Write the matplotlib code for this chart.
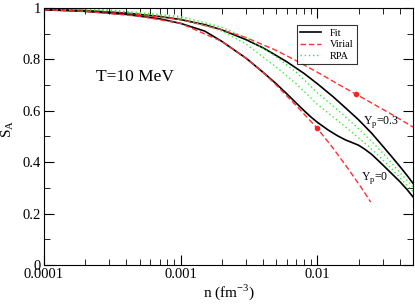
import numpy as np
import matplotlib as mpl
mpl.use('Agg')
import matplotlib.pyplot as plt
from matplotlib.ticker import LogLocator, MultipleLocator, FixedLocator, FixedFormatter, FuncFormatter

# density (fm^-3) and S_A values
n_fit03 = [1e-4, 2e-4, 4e-4, 7e-4, 1e-3, 1.5e-3, 2e-3, 3e-3, 4e-3, 5e-3, 6e-3, 8e-3,
           1e-2, 1.3e-2, 1.6e-2, 2e-2, 2.5e-2, 3e-2, 3.5e-2, 4e-2, 4.5e-2, 5e-2]
s_fit03 = [0.995, 0.99, 0.98, 0.967, 0.955, 0.935, 0.915, 0.877, 0.845, 0.815, 0.79, 0.745,
           0.705, 0.655, 0.612, 0.565, 0.512, 0.463, 0.421, 0.384, 0.35, 0.318]

n_fit0 = [1e-4, 2e-4, 4e-4, 7e-4, 1e-3, 1.5e-3, 2e-3, 3e-3, 4e-3, 5e-3, 6e-3, 7e-3, 8e-3, 9e-3,
          1e-2, 1.2e-2, 1.4e-2, 1.6e-2, 1.8e-2, 2e-2, 2.2e-2, 2.5e-2, 3e-2, 3.5e-2, 4e-2, 4.5e-2, 5e-2]
s_fit0 = [0.993, 0.987, 0.975, 0.958, 0.94, 0.91, 0.87, 0.805, 0.75, 0.705, 0.665, 0.63, 0.60, 0.575,
          0.555, 0.525, 0.503, 0.487, 0.476, 0.466, 0.452, 0.43, 0.39, 0.355, 0.325, 0.295, 0.265]

n_vir03 = [1e-4, 2e-4, 5e-4, 1e-3, 2e-3, 3e-3, 5e-3, 7e-3, 1e-2, 1.4e-2, 1.91e-2, 2.5e-2, 3.5e-2, 5e-2]
s_vir03 = [0.995, 0.99, 0.975, 0.955, 0.915, 0.885, 0.835, 0.795, 0.75, 0.705, 0.665, 0.63, 0.586, 0.537]

n_vir0 = [1e-4, 2e-4, 5e-4, 1e-3, 2e-3, 3e-3, 4e-3, 5e-3, 7e-3, 9.9e-3, 1.3e-2, 1.7e-2, 2.1e-2, 2.45e-2]
s_vir0 = [0.993, 0.987, 0.968, 0.94, 0.87, 0.805, 0.75, 0.70, 0.62, 0.534, 0.455, 0.37, 0.30, 0.245]

n_rpa03 = [1e-4, 3e-4, 1e-3, 2e-3, 3e-3, 5e-3, 7e-3, 1e-2, 1.5e-2, 2e-2, 2.5e-2, 3.2e-2, 4e-2, 5e-2]
s_rpa03 = [1.0, 0.993, 0.967, 0.925, 0.885, 0.81, 0.75, 0.67, 0.59, 0.53, 0.48, 0.42, 0.36, 0.305]

n_rpa0 = [1e-4, 3e-4, 1e-3, 2e-3, 3e-3, 5e-3, 7e-3, 1e-2, 1.5e-2, 2e-2, 2.5e-2, 3.2e-2, 4e-2, 5e-2]
s_rpa0 = [0.998, 0.99, 0.962, 0.91, 0.86, 0.77, 0.705, 0.625, 0.55, 0.495, 0.45, 0.395, 0.34, 0.285]

n_dots = [1.91e-2, 9.9e-3]
s_dots = [0.665, 0.534]

plt.rcParams['font.family'] = 'Liberation Serif'
plt.rcParams['mathtext.fontset'] = 'custom'
plt.rcParams['mathtext.rm'] = 'Liberation Serif'
plt.rcParams['xtick.direction'] = 'in'
plt.rcParams['ytick.direction'] = 'in'

fig = plt.figure(figsize=(4.15, 3.04), dpi=100)
ax = fig.add_axes([44/415, 39/304, 369/415, 257/304])

ax.plot(n_fit03, s_fit03, color='black', lw=1.2, label='Fit')
ax.plot(n_vir03, s_vir03, color='#ff3030', lw=1.0, ls=(0, (4, 2)), label='Virial')
ax.plot(n_rpa03, s_rpa03, color='#33ee33', lw=1.0, ls=(0, (1, 2)), label='RPA')
ax.plot(n_fit0, s_fit0, color='black', lw=1.2)
ax.plot(n_vir0, s_vir0, color='#ff3030', lw=1.0, ls=(0, (4, 2)))
ax.plot(n_rpa0, s_rpa0, color='#33ee33', lw=1.0, ls=(0, (1, 2)))
ax.plot(n_dots, s_dots, 'o', color='#ff2020', ms=3, ls='none')

ax.set_xscale('log')
ax.set_xlim(1e-4, 0.05)
ax.set_ylim(0, 1)
ax.xaxis.set_major_locator(FixedLocator([1e-4, 1e-3, 1e-2]))
ax.xaxis.set_major_formatter(FixedFormatter(['0.0001', '0.001', '0.01']))
ax.xaxis.set_minor_locator(LogLocator(base=10, subs=np.arange(2, 10)))
ax.xaxis.set_minor_formatter(mpl.ticker.NullFormatter())
ax.yaxis.set_major_locator(MultipleLocator(0.2))
ax.yaxis.set_minor_locator(MultipleLocator(0.1))
ax.yaxis.set_major_formatter(FuncFormatter(lambda v, p: '%g' % round(v, 2)))
ax.tick_params(which='both', top=True, right=True, labelsize=10.5, pad=2)
ax.tick_params(which='major', length=7)
ax.tick_params(which='minor', length=4)

ax.set_xlabel(r'n (fm$^{-3}$)', fontsize=11, labelpad=1)
ax.set_ylabel(r'S$_{\mathrm{A}}$', fontsize=11)
ax.yaxis.set_label_coords(-0.075, 0.53)

ax.text(0.14, 0.73, 'T=10 MeV', transform=ax.transAxes, fontsize=12.5, va='center')
ax.text(0.0215, 0.555, r'Y$_{\mathrm{p}}$=0.3', fontsize=8.5, va='center')
ax.text(0.021, 0.34, r'Y$_{\mathrm{p}}$=0', fontsize=8.5, va='center')

leg = ax.legend(loc='upper right', bbox_to_anchor=(0.848, 0.934), fontsize=7.5,
                frameon=True, fancybox=False, edgecolor='black', handlelength=2.0,
                borderpad=0.35, labelspacing=0.2, handletextpad=0.8, borderaxespad=0)
leg.get_frame().set_linewidth(0.8)

fig.savefig('out.png', dpi=100)
